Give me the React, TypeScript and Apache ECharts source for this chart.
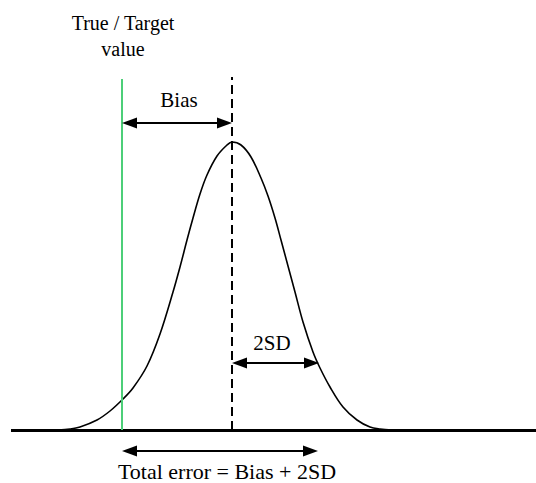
import React, { useEffect, useRef } from "react";
import * as echarts from "echarts";

// Curve: x position (arbitrary units) and height above baseline
const curveX = [58, 70, 80, 97, 110, 123, 133, 147, 160, 173, 180, 187, 193, 200, 207, 217, 227, 232, 241, 251, 261, 268, 275, 281, 288, 295, 303, 313, 320, 330, 343, 357, 370, 380, 392];
const curveH = [0, 1, 3, 10, 19, 31, 42, 64, 96, 138, 163, 190, 212, 236, 255, 274, 285, 288, 285, 273, 252, 234, 212, 190, 164, 138, 108, 78, 62, 43, 23, 10, 3, 1, 0];

const trueValueX = 122;
const meanX = 232;
const plus2SDX = 319;
const biasArrowH = 307;
const sdArrowH = 67;
const totalArrowH = -21;
const verticalTopH = 351;
const axisRange = { xMin: 0, xMax: 536, yMin: -53, yMax: 430 };

const labelTexts = ["True / Target\nvalue", "Bias", "2SD", "Total error = Bias + 2SD"];
const labelX = [123, 179, 272, 227];
const labelH = [394, 330, 87, -41];

const FONT_FAMILY = "Liberation Serif";
const FONT_SIZES = [20, 21, 21, 22];
const ARROW_LEN = 15;
const ARROW_W = 11;
const HALF = ARROW_LEN / 2;

export default function App() {
  const ref = useRef<HTMLDivElement>(null);
  useEffect(() => {
    if (!ref.current) return;
    const chart = echarts.init(ref.current, undefined, { renderer: "svg" });
    const arrowStyle = { color: "#000", width: 2, type: "solid" as const };
    const arrow = (x1: number, x2: number, h: number) => [
      {
        coord: [x1 + HALF, h],
        symbol: "triangle",
        symbolSize: [ARROW_W, ARROW_LEN],
        lineStyle: arrowStyle,
        label: { show: false },
      },
      { coord: [x2 - HALF, h], symbol: "triangle", symbolSize: [ARROW_W, ARROW_LEN] },
    ];
    chart.setOption({
      animation: false,
      backgroundColor: "#fff",
      grid: { left: 0, right: 0, top: 0, bottom: 0 },
      xAxis: { type: "value", min: axisRange.xMin, max: axisRange.xMax, show: false },
      yAxis: { type: "value", min: axisRange.yMin, max: axisRange.yMax, show: false },
      series: [
        {
          type: "line",
          data: curveX.map((x, i) => [x, curveH[i]]),
          smooth: 0.35,
          symbol: "none",
          lineStyle: { color: "#000", width: 1.6 },
          z: 3,
        },
        {
          type: "line",
          data: [],
          symbol: "none",
          markLine: {
            silent: true,
            animation: false,
            label: { show: false },
            data: [
              [
                { coord: [11, 0], symbol: "none", lineStyle: { color: "#000", width: 3, type: "solid" } },
                { coord: [536, 0], symbol: "none" },
              ],
              [
                { coord: [trueValueX, 0], symbol: "none", lineStyle: { color: "#4ccf78", width: 2, type: "solid" } },
                { coord: [trueValueX, verticalTopH], symbol: "none" },
              ],
              [
                { coord: [meanX, 0], symbol: "none", lineStyle: { color: "#000", width: 2, type: [9, 5] } },
                { coord: [meanX, verticalTopH + 2], symbol: "none" },
              ],
              arrow(trueValueX, meanX, biasArrowH),
              arrow(meanX, plus2SDX, sdArrowH),
              arrow(trueValueX, plus2SDX - 1, totalArrowH),
            ],
          },
        },
      ],
    });
    const graphics = labelTexts.map((text, i) => {
      const [px, py] = chart.convertToPixel({ gridIndex: 0 }, [labelX[i], labelH[i]]) as number[];
      return {
        type: "text",
        x: px,
        y: py,
        silent: true,
        style: {
          text,
          fill: "#000",
          fontFamily: FONT_FAMILY,
          fontSize: FONT_SIZES[i],
          lineHeight: 26,
          align: "center",
          verticalAlign: "middle",
        },
      };
    });
    chart.setOption({ graphic: graphics });
    return () => chart.dispose();
  }, []);
  return (
    <div
      ref={ref}
      style={{ position: "fixed", left: 0, top: 0, width: 536, height: 483, background: "#fff" }}
    />
  );
}
